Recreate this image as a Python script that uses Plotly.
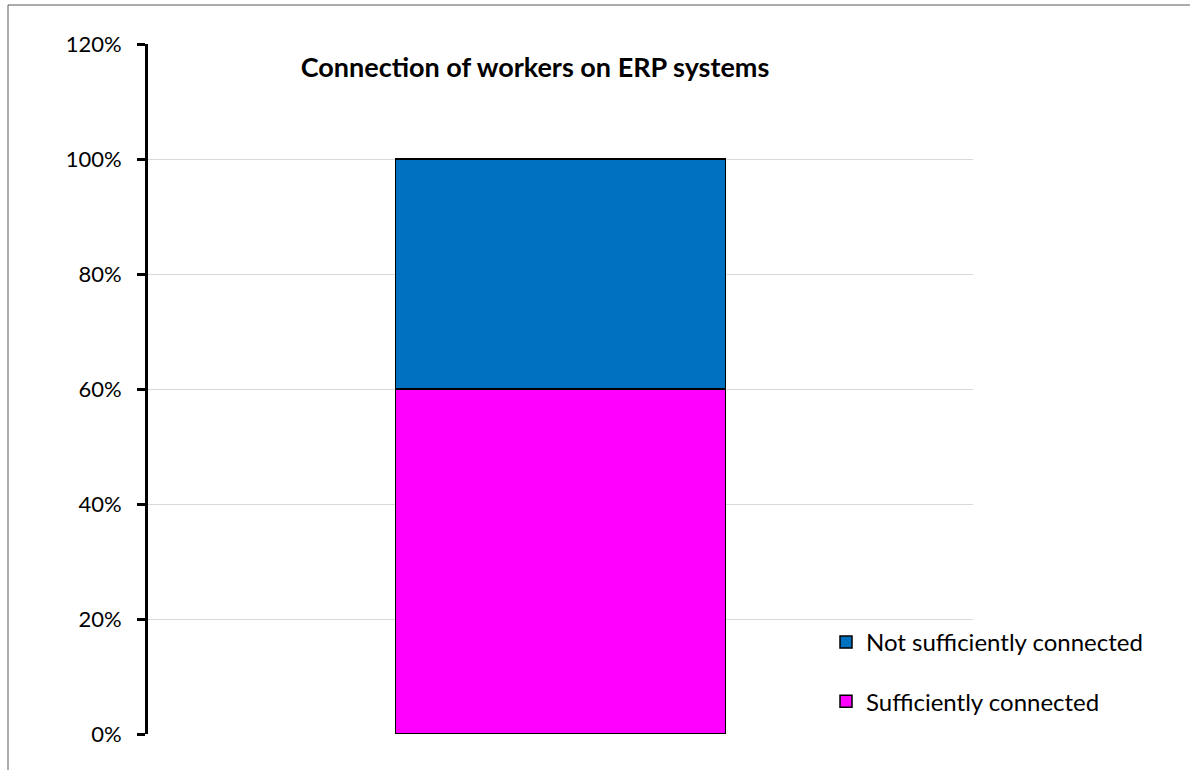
import plotly.graph_objects as go

# Share of workers by connection status on ERP systems
categories = ["Workers"]
sufficiently_connected = [0.60]
not_sufficiently_connected = [0.40]
tick_values = [0, 0.2, 0.4, 0.6, 0.8, 1.0, 1.2]
tick_labels = ["0%", "20%", "40%", "60%", "80%", "100%", "120%"]

FONT = "Lato, Calibri, Carlito, sans-serif"

fig = go.Figure()
fig.add_trace(go.Bar(
    x=categories, y=sufficiently_connected, name="Sufficiently connected",
    marker=dict(color="#FF00FF", line=dict(color="#000000", width=1.5)),
    legendgroup="a", legendrank=2, width=0.4,
))
fig.add_trace(go.Bar(
    x=categories, y=not_sufficiently_connected, name="Not sufficiently connected",
    marker=dict(color="#0070C0", line=dict(color="#000000", width=1.5)),
    legendgroup="b", legendrank=1, width=0.4,
))

W, H = 1191, 770
L, R, T, B = 148, 218, 44, 36
pw, ph = W - L - R, H - T - B

def px(xp):
    return (xp - L) / pw

def py(yp):
    return (H - B - yp) / ph

fig.update_layout(
    width=W, height=H,
    margin=dict(l=L, r=R, t=T, b=B, pad=0),
    barmode="stack",
    paper_bgcolor="white",
    plot_bgcolor="white",
    font=dict(family=FONT, size=18, color="#000000"),
    title=dict(
        text="<b>Connection of workers on ERP systems</b>",
        font=dict(family=FONT, size=27, color="#000000"),
        x=px(535), xanchor="center", xref="paper",
        y=(H - 68) / H, yanchor="middle", yref="container",
    ),
    xaxis=dict(showticklabels=False, showgrid=False, zeroline=False,
               showline=False, ticks="", range=[-0.5, 0.5]),
    yaxis=dict(
        range=[0, 1.2], tickvals=tick_values, ticktext=tick_labels,
        showgrid=True, gridcolor="#D9D9D9", gridwidth=1,
        zeroline=False, showline=True, linecolor="#000000", linewidth=3,
        ticks="outside", ticklen=8, tickwidth=3, tickcolor="#000000",
        tickfont=dict(family=FONT, size=22, color="#000000"),
        ticklabelstandoff=11,
    ),
    legend=dict(
        x=px(826), y=py(620), xanchor="left", yanchor="top",
        traceorder="grouped", tracegroupgap=25,
        font=dict(family=FONT, size=24, color="#000000"),
        bgcolor="rgba(0,0,0,0)", itemwidth=30,
    ),
    shapes=[
        dict(type="line", xref="paper", yref="paper",
             x0=px(8), x1=px(1190), y0=py(5), y1=py(5),
             line=dict(color="#595959", width=1)),
        dict(type="line", xref="paper", yref="paper",
             x0=px(8), x1=px(8), y0=py(5), y1=py(775),
             line=dict(color="#595959", width=1)),
    ],
)

fig.write_html("out.html")
